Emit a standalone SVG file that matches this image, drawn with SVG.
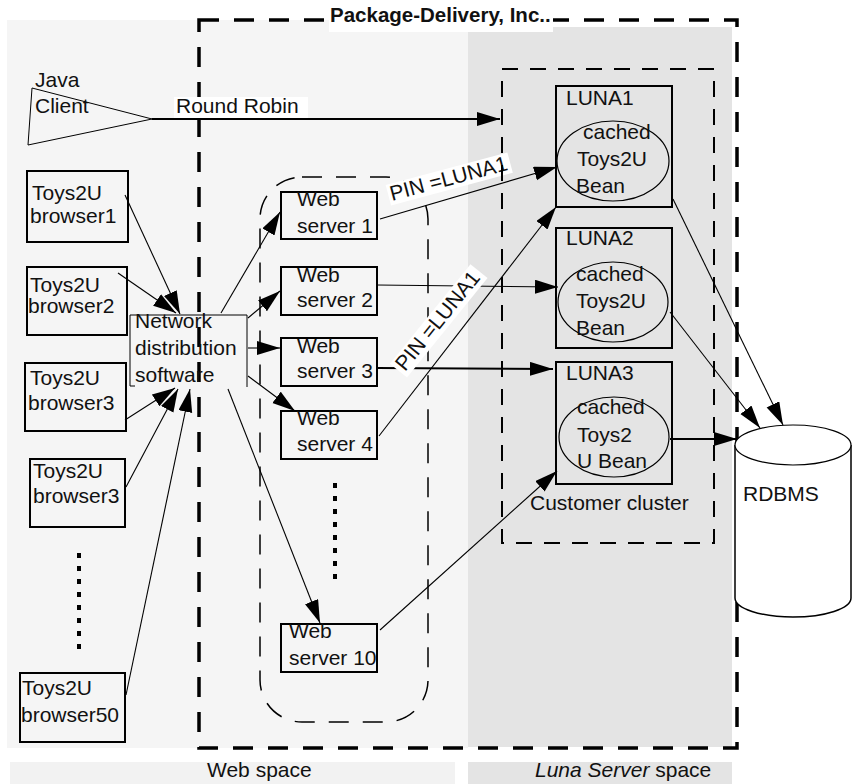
<svg xmlns="http://www.w3.org/2000/svg" width="854" height="784" viewBox="0 0 854 784">
  <style>
    text { font-family: "Liberation Sans", Arial, sans-serif; font-size: 21px; fill: #111; }
    .title { font-weight: bold; font-size: 20.5px; }
    .box { fill: none; stroke: #000; stroke-width: 2; }
    .thin { fill: none; stroke: #000; stroke-width: 1; }
    .bean { fill: none; stroke: #000; stroke-width: 1.2; }
    .conn { fill: none; stroke: #000; stroke-width: 1.1; marker-end: url(#arrow); }
    .conn.heavy { stroke-width: 2.2; }
    .dots { fill: none; stroke: #000; stroke-width: 4; stroke-dasharray: 5 8; }
  </style>
  <defs>
    <marker id="arrow" markerUnits="userSpaceOnUse" markerWidth="25" markerHeight="15" refX="23" refY="7" orient="auto">
      <path d="M0,0 L23,7 L0,14 z" fill="#000"/>
    </marker>
  </defs>

  <!-- zones -->
  <g id="zones">
    <rect x="7" y="20" width="461" height="728" fill="#f5f5f5"/>
    <rect x="468" y="27" width="264" height="720" fill="#e4e4e4"/>
    <rect x="10" y="762" width="445" height="22" fill="#f2f2f2"/>
    <rect x="468" y="762" width="264" height="22" fill="#e4e4e4"/>
    <text x="207" y="777">Web space</text>
    <text x="535" y="777"><tspan font-style="italic">Luna Server</tspan> space</text>
  </g>

  <!-- company boundary -->
  <g id="company">
    <rect x="199" y="20" width="538" height="728" fill="none" stroke="#000" stroke-width="3.5" stroke-dasharray="20 15"/>
    <rect x="329" y="0" width="224" height="32" fill="#fff"/>
    <text class="title" x="330" y="22">Package-Delivery, Inc..</text>
  </g>

  <!-- web server farm boundary -->
  <rect id="web-farm" x="260" y="177" width="168" height="545" rx="42" ry="42" fill="none" stroke="#000" stroke-width="1.5" stroke-dasharray="20 14"/>

  <!-- Java client -->
  <g id="java-client">
    <polygon points="32,88 28,145 152,119" class="thin"/>
    <text x="35" y="87">Java</text>
    <text x="35" y="113">Client</text>
  </g>

  <!-- browsers -->
  <g id="browser1">
    <rect x="27" y="171" width="101" height="71" class="box"/>
    <text x="32" y="200">Toys2U</text>
    <text x="30" y="223">browser1</text>
  </g>
  <g id="browser2">
    <rect x="27" y="267" width="100" height="68" class="box"/>
    <text x="30" y="292">Toys2U</text>
    <text x="28" y="313">browser2</text>
  </g>
  <g id="browser3a">
    <rect x="25" y="363" width="101" height="68" class="box"/>
    <text x="30" y="385">Toys2U</text>
    <text x="28" y="410">browser3</text>
  </g>
  <g id="browser3b">
    <rect x="30" y="459" width="95" height="68" class="box"/>
    <text x="33" y="478">Toys2U</text>
    <text x="33" y="503">browser3</text>
  </g>
  <g id="browser50">
    <rect x="20" y="673" width="105" height="69" class="box"/>
    <text x="22" y="695">Toys2U</text>
    <text x="21" y="722">browser50</text>
  </g>
  <line id="more-browsers" x1="79" y1="553" x2="79" y2="652" class="dots"/>

  <!-- network distribution -->
  <g id="network">
    <path d="M135,386 H130 V315 H247 V387" class="thin"/>
    <text x="135" y="328">Network</text>
    <text x="135" y="355">distribution</text>
    <text x="135" y="382">software</text>
  </g>

  <!-- web servers -->
  <g id="ws1">
    <rect x="281" y="192" width="96" height="47" class="box"/>
    <text x="297" y="206">Web</text>
    <text x="297" y="233">server 1</text>
  </g>
  <g id="ws2">
    <rect x="281" y="267" width="96" height="48" class="box"/>
    <text x="297" y="282">Web</text>
    <text x="297" y="307">server 2</text>
  </g>
  <g id="ws3">
    <rect x="281" y="338" width="96" height="48" class="box"/>
    <text x="297" y="353">Web</text>
    <text x="297" y="378">server 3</text>
  </g>
  <g id="ws4">
    <rect x="281" y="411" width="96" height="48" class="box"/>
    <text x="297" y="425">Web</text>
    <text x="297" y="451">server 4</text>
  </g>
  <line id="more-servers" x1="335" y1="483" x2="335" y2="581" class="dots"/>
  <g id="ws10">
    <rect x="281" y="624" width="96" height="48" class="box"/>
    <text x="289" y="638">Web</text>
    <text x="289" y="665">server 10</text>
  </g>

  <!-- Luna servers -->
  <g id="luna1">
    <rect x="556" y="86" width="116" height="121" class="box"/>
    <text x="566" y="105">LUNA1</text>
    <ellipse cx="613" cy="161" rx="56" ry="40" class="bean"/>
    <text x="583" y="139">cached</text>
    <text x="577" y="166">Toys2U</text>
    <text x="576" y="193">Bean</text>
  </g>
  <g id="luna2">
    <rect x="556" y="228" width="116" height="120" class="box"/>
    <text x="566" y="245">LUNA2</text>
    <ellipse cx="613" cy="302" rx="55" ry="40" class="bean"/>
    <text x="576" y="281">cached</text>
    <text x="576" y="308">Toys2U</text>
    <text x="576" y="335">Bean</text>
  </g>
  <g id="luna3">
    <rect x="556" y="362" width="116" height="122" class="box"/>
    <text x="566" y="380">LUNA3</text>
    <ellipse cx="614" cy="437" rx="55" ry="40" class="bean"/>
    <text x="577" y="414">cached</text>
    <text x="577" y="442">Toys2</text>
    <text x="577" y="468">U Bean</text>
  </g>

  <!-- database -->
  <g id="rdbms">
    <path d="M735,445 V598 A58,19 0 0 0 851,598 V445" fill="#fff" stroke="#000" stroke-width="1.5"/>
    <ellipse cx="793" cy="445" rx="58" ry="20" fill="#fff" stroke="#000" stroke-width="1.2"/>
    <text x="743" y="501">RDBMS</text>
  </g>

  <!-- connectors -->
  <g id="connectors">
    <line x1="152" y1="119" x2="500" y2="119" class="conn heavy"/>
    <line x1="125" y1="195" x2="180" y2="314" class="conn"/>
    <line x1="118" y1="273" x2="176" y2="313" class="conn"/>
    <line x1="125" y1="420" x2="175" y2="388" class="conn"/>
    <line x1="126" y1="487" x2="178" y2="389" class="conn"/>
    <line x1="126" y1="695" x2="190" y2="389" class="conn"/>
    <line x1="221" y1="313" x2="280" y2="212" class="conn"/>
    <line x1="248" y1="318" x2="280" y2="291" class="conn"/>
    <line x1="248" y1="348" x2="280" y2="348" class="conn"/>
    <line x1="248" y1="376" x2="295" y2="411" class="conn"/>
    <line x1="228" y1="389" x2="320" y2="623" class="conn"/>
    <line x1="380" y1="219" x2="557" y2="167" class="conn"/>
    <line x1="377" y1="285" x2="558" y2="287" class="conn"/>
    <line x1="377" y1="368" x2="553" y2="369" class="conn heavy"/>
    <line x1="379" y1="436" x2="556" y2="207" class="conn"/>
    <line x1="380" y1="630" x2="557" y2="471" class="conn"/>
    <line x1="673" y1="199" x2="783" y2="425" class="conn"/>
    <line x1="670" y1="312" x2="760" y2="428" class="conn"/>
    <line x1="670" y1="439" x2="737" y2="439" class="conn heavy"/>
  </g>

  <!-- connector labels -->
  <g id="labels">
    <rect x="174" y="97" width="134" height="21" fill="#fff"/>
    <text x="176" y="113">Round Robin</text>
    <g transform="translate(392,201) rotate(-15)">
      <rect x="-2" y="-17" width="126" height="21" fill="#fff"/>
      <text x="0" y="0">PIN =LUNA1</text>
    </g>
    <g transform="translate(405,372) rotate(-51)">
      <rect x="-3" y="-17" width="128" height="22" fill="#fff"/>
      <text x="0" y="0">PIN =LUNA1</text>
    </g>
  </g>

  <!-- customer cluster boundary -->
  <g id="cluster">
    <rect x="502" y="69" width="212" height="474" fill="none" stroke="#000" stroke-width="2" stroke-dasharray="16 12"/>
    <text x="530" y="510">Customer cluster</text>
  </g>
</svg>
